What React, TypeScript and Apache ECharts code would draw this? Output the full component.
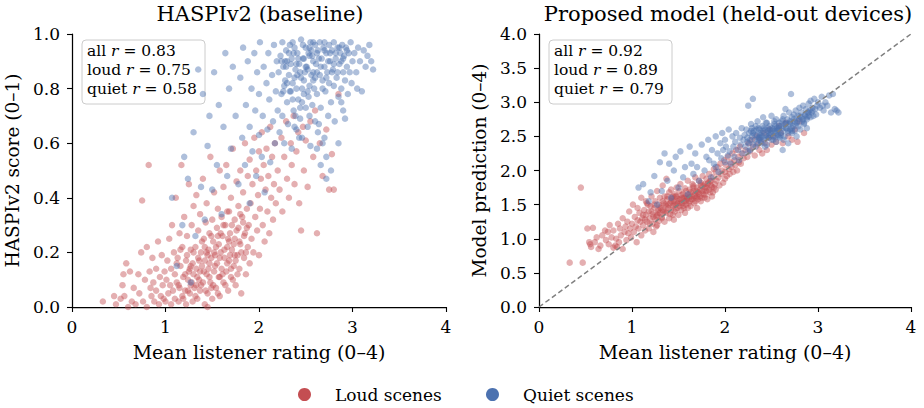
import React, { useEffect, useRef } from "react";
import * as echarts from "echarts";

// Each scene: [mean listener rating, HASPIv2 score, model prediction]
const loudScenes: number[][] = [
  [0.33,0.02,0.65],[0.47,0.01,0.65],[0.45,0.04,1.75],[0.52,0.03,1.15],[0.55,0.12,0.92],[0.56,0.04,0.88],
  [0.58,0.16,1.16],[0.6,0.0,0.95],[0.62,0.13,1.02],[0.64,0.02,0.85],[0.66,0.07,0.9],[0.68,0.01,1.05],[0.54,0.08,0.95],
  [0.72,0.05,0.98],[0.74,0.2,1.1],[0.75,0.39,0.92],[0.76,0.02,1.2],[0.78,0.1,1.02],[0.8,0.22,0.87],[0.8,0.0,1.12],
  [0.82,0.52,0.9],[0.83,0.13,1.0],[0.85,0.04,1.22],[0.86,0.18,0.95],[0.87,0.09,1.15],[0.88,0.02,1.05],[0.9,0.14,1.3],
  [0.9,0.06,0.85],[0.92,0.24,1.1],[0.93,0.01,1.18],[0.94,0.11,0.98],[0.95,0.04,1.25],[0.96,0.19,1.08],[0.97,0.08,1.4],
  [0.98,0.03,1.15],[0.99,0.13,1.02],[0.71,0.12,1.12],[0.84,0.07,0.88],
  [1.0,0.02,1.22],[1.01,0.1,1.5],[1.02,0.17,1.1],[1.03,0.05,1.32],[1.04,0.25,1.18],[1.05,0.08,0.95],[1.06,0.01,1.27],
  [1.06,0.14,1.45],[1.07,0.3,1.15],[1.08,0.06,1.38],[1.09,0.2,1.25],[1.1,0.03,1.05],[1.1,0.12,1.6],[1.11,0.4,1.3],
  [1.12,0.09,1.2],[1.13,0.18,1.42],[1.14,0.02,1.12],[1.15,0.27,1.55],[1.15,0.07,1.35],[1.16,0.15,1.25],[1.17,0.52,1.5],
  [1.18,0.04,1.4],[1.18,0.22,1.15],[1.19,0.11,1.3],[1.2,0.33,1.48],[1.21,0.06,1.62],[1.22,0.17,1.22],[1.22,0.01,1.36],
  [1.23,0.26,1.1],[1.24,0.1,1.45],[1.25,0.45,1.28],[1.25,0.13,1.55],[1.26,0.05,1.33],[1.27,0.21,1.7],[1.27,0.08,1.2],
  [1.28,0.3,1.42],[1.29,0.16,1.5],[1.29,0.02,1.26],[1.3,0.37,1.38],[1.3,0.12,1.6],
  [1.31,0.07,1.45],[1.32,0.22,1.32],[1.33,0.14,1.55],[1.33,0.41,1.78],[1.34,0.03,1.4],[1.35,0.18,1.62],[1.35,0.28,1.25],
  [1.36,0.1,1.5],[1.37,0.34,1.88],[1.37,0.06,1.38],[1.38,0.2,1.58],[1.39,0.15,1.45],[1.4,0.47,1.68],[1.4,0.09,1.3],
  [1.41,0.25,1.52],[1.42,0.01,1.42],[1.42,0.17,1.72],[1.43,0.31,1.6],[1.44,0.12,1.48],[1.44,0.38,1.35],[1.45,0.05,1.55],
  [1.46,0.21,1.65],[1.46,0.14,1.4],[1.47,0.27,1.5],[1.48,0.09,1.75],[1.48,0.55,1.62],[1.49,0.18,1.45],[1.5,0.32,1.58],
  [1.5,0.03,1.35],[1.51,0.24,1.7],[1.52,0.13,1.52],[1.52,0.42,1.8],[1.53,0.19,1.42],[1.54,0.07,1.6],[1.55,0.29,1.48],
  [1.55,0.16,1.66],[1.56,0.36,1.55],[1.57,0.11,1.38],[1.57,0.23,1.74],[1.58,0.5,1.62],[1.58,0.04,1.5],[1.59,0.2,1.58],
  [1.6,0.33,1.85],[1.6,0.14,1.45],[1.45,0.0,1.28],
  [1.61,0.26,1.65],[1.62,0.09,1.55],[1.62,0.44,1.72],[1.63,0.18,1.48],[1.64,0.3,1.62],[1.65,0.13,1.8],[1.65,0.52,1.58],
  [1.66,0.22,1.7],[1.67,0.06,1.52],[1.68,0.35,1.66],[1.68,0.17,1.9],[1.69,0.27,1.6],[1.7,0.4,1.75],[1.7,0.11,1.45],
  [1.71,0.21,1.68],[1.72,0.58,1.85],[1.73,0.15,1.62],[1.74,0.32,1.78],[1.74,0.25,1.55],[1.75,0.08,1.7],[1.76,0.46,1.92],
  [1.77,0.19,1.65],[1.78,0.29,1.8],[1.78,0.37,1.6],[1.79,0.14,1.75],[1.8,0.5,1.88],[1.8,0.23,1.7],[1.81,0.05,1.58],
  [1.82,0.33,1.82],[1.83,0.42,1.95],[1.84,0.18,1.68],[1.85,0.27,1.85],[1.85,0.6,1.78],[1.86,0.12,1.62],[1.87,0.36,1.9],
  [1.88,0.22,1.75],[1.88,0.48,2.02],[1.89,0.3,1.8],[1.9,0.16,1.72],[1.9,0.54,1.98],
  [1.91,0.38,1.85],[1.92,0.25,2.05],[1.93,0.45,1.9],[1.94,0.2,1.78],[1.95,0.62,2.1],[1.96,0.33,1.95],[1.97,0.5,2.0],
  [1.98,0.28,1.82],[1.99,0.41,2.15],[2.0,0.57,1.98],[2.0,0.19,1.88],[2.01,0.36,2.08],[2.02,0.47,1.92],[2.03,0.64,2.2],
  [2.04,0.3,2.02],[2.05,0.52,1.95],[2.06,0.24,2.12],[2.07,0.43,2.05],[2.08,0.58,2.25],[2.09,0.35,1.98],[2.1,0.48,2.15],
  [2.11,0.27,2.08],[2.12,0.66,2.3],[2.13,0.4,2.0],[2.14,0.55,2.2],[2.15,0.32,2.12],[2.16,0.45,2.35],[2.17,0.6,2.1],
  [2.18,0.38,2.25],[2.2,0.5,2.18],
  [2.22,0.43,2.3],[2.24,0.62,2.2],[2.25,0.35,2.4],[2.27,0.55,2.28],[2.29,0.68,2.45],[2.3,0.47,2.35],[2.32,0.4,2.22],
  [2.34,0.6,2.5],[2.35,0.52,2.38],[2.37,0.7,2.3],[2.38,0.45,2.45],[2.4,0.57,2.25],[2.42,0.64,2.55],[2.43,0.38,2.4],
  [2.45,0.28,2.3],[2.47,0.66,2.48],[2.48,0.5,2.6],[2.5,0.61,2.38],
  [2.52,0.44,2.5],[2.55,0.68,2.42],[2.58,0.55,2.65],[2.6,0.72,2.55],[2.62,0.27,2.4],[2.65,0.6,2.7],[2.68,0.48,2.5],
  [2.72,0.65,2.45],[2.75,0.43,2.6],[2.8,0.43,2.72],[2.85,0.78,2.55],[2.78,0.56,2.42],
  [1.12,0.16,1.35],[1.14,0.08,1.28],[1.16,0.21,1.52],[1.19,0.03,1.22],[1.21,0.12,1.4],[1.23,0.19,1.32],[1.24,0.06,1.5],
  [1.26,0.14,1.18],[1.28,0.09,1.38],[1.3,0.2,1.46],[1.32,0.04,1.3],[1.34,0.11,1.52],[1.36,0.17,1.4],[1.38,0.08,1.62],
  [1.39,0.24,1.5],[1.41,0.13,1.36],[1.43,0.06,1.58],[1.45,0.19,1.5],[1.47,0.11,1.62],[1.49,0.26,1.55],[1.51,0.08,1.48],
  [1.53,0.15,1.64],[1.54,0.22,1.52],[1.56,0.05,1.45],[1.58,0.18,1.7],[1.59,0.27,1.6],[1.61,0.12,1.52],[1.63,0.21,1.68],
  [1.64,0.08,1.58],[1.66,0.16,1.75],[1.67,0.25,1.62],[1.69,0.19,1.7],[1.71,0.3,1.58],[1.72,0.1,1.66],[1.73,0.23,1.72],
  [1.75,0.17,1.6],[1.76,0.28,1.78],[1.77,0.12,1.7],[1.79,0.24,1.65],[1.81,0.2,1.8],[1.83,0.31,1.72],[1.84,0.26,1.85],
  [1.86,0.2,1.76],[1.87,0.29,1.68],[1.52,0.2,1.58],[1.47,0.16,1.44],[1.42,0.22,1.55],[1.37,0.13,1.48],[1.33,0.08,1.42],
  [1.27,0.15,1.35],[1.62,0.3,1.62],[1.68,0.24,1.55],[1.74,0.19,1.82],[1.56,0.26,1.6],[1.44,0.2,1.62],[1.66,0.35,1.78],
  [1.58,0.11,1.55],[1.49,0.07,1.52],[1.7,0.14,1.62],[1.8,0.34,1.75],
];

const quietScenes: number[][] = [
  [1.07,0.4,1.75],[1.12,0.15,1.8],[1.18,0.3,1.55],[1.2,0.55,1.68],[1.24,0.47,1.92],[1.27,0.09,1.5],[1.3,0.64,2.12],
  [1.32,0.26,1.7],[1.35,0.87,2.25],[1.38,0.44,1.85],[1.4,0.78,2.1],[1.42,0.32,1.6],[1.45,0.59,2.0],[1.47,0.7,2.2],
  [1.5,0.43,1.75],[1.52,0.86,2.28],[1.55,0.52,1.9],[1.57,0.74,2.05],[1.6,0.34,1.65],[1.62,0.66,2.35],[1.64,0.93,2.1],
  [1.66,0.48,1.95],[1.68,0.8,2.25],[1.7,0.58,2.05],[1.72,0.88,1.85],
  [1.75,0.7,2.38],[1.78,0.45,2.0],[1.8,0.84,2.2],[1.82,0.62,2.45],[1.83,0.95,2.15],[1.85,0.52,1.9],[1.86,0.74,2.3],
  [1.88,0.9,2.1],[1.9,0.38,2.05],[1.9,0.66,2.5],[1.92,0.8,2.25],[1.93,0.57,1.98],[1.95,0.93,2.4],[1.96,0.72,2.18],
  [1.97,0.48,2.55],[1.98,0.86,2.3],[2.0,0.63,2.12],[2.0,0.78,2.45],[2.01,0.97,2.35],[2.03,0.55,2.22],[2.04,0.7,2.6],
  [2.05,0.88,2.28],[2.06,0.42,2.1],[2.08,0.82,2.5],[2.09,0.65,2.35],[2.1,0.93,2.2],[2.11,0.76,2.42],[2.12,0.53,2.55],
  [2.14,0.85,2.3],[2.15,0.68,2.15],[2.16,0.96,2.48],[2.17,0.6,2.38],[2.18,0.79,2.62],[2.19,0.9,2.25],[2.2,0.72,2.45],
  [2.21,0.86,2.52],[2.22,0.64,2.35],[2.23,0.92,2.6],[2.24,0.78,2.42],[2.25,0.97,2.95],[2.25,0.7,2.28],[2.26,0.88,2.55],
  [2.27,0.6,2.45],[2.28,0.83,2.68],[2.29,0.94,2.5],[2.3,0.75,2.38],[2.3,0.9,3.05],[2.31,0.67,2.58],[2.32,0.85,2.45],
  [2.33,0.96,2.65],[2.34,0.79,2.52],[2.35,0.58,2.4],[2.35,0.91,2.72],[2.36,0.82,2.48],[2.37,0.72,2.6],[2.38,0.95,2.55],
  [2.39,0.87,2.42],[2.4,0.65,2.65],[2.4,0.8,2.5],[2.41,0.93,2.78],[2.42,0.76,2.45],[2.43,0.89,2.6],[2.44,0.69,2.52],
  [2.45,0.98,2.7],[2.45,0.84,2.38],[2.46,0.62,2.58],[2.47,0.91,2.48],[2.48,0.78,2.65],[2.49,0.86,2.55],[2.5,0.95,2.8],
  [2.5,0.73,2.45],[2.51,0.88,2.62],[2.52,0.66,2.5],[2.53,0.93,2.68],[2.54,0.81,2.58],[2.55,0.97,2.75],[2.55,0.59,2.42],
  [2.56,0.85,2.62],[2.57,0.74,2.52],[2.58,0.9,2.7],[2.59,0.8,2.48],[2.6,0.96,2.65],[2.6,0.68,2.55],[2.29,0.88,2.62],
  [2.33,0.79,2.35],[2.37,0.93,2.48],[2.41,0.85,2.58],[2.44,0.73,2.7],[2.47,0.96,2.55],[2.52,0.87,2.45],[2.57,0.92,2.6],
  [2.27,0.81,2.3],[2.39,0.7,2.4],[2.48,0.91,2.52],[2.53,0.77,2.72],[2.58,0.83,2.5],[2.24,0.9,2.48],[2.36,0.97,2.62],
  [2.43,0.62,2.35],[2.54,0.95,2.5],
  [2.61,0.89,2.72],[2.62,0.78,2.58],[2.63,0.94,2.8],[2.64,0.67,2.5],[2.65,0.85,2.68],[2.65,0.97,2.9],[2.66,0.73,2.62],
  [2.67,0.91,2.75],[2.68,0.83,2.55],[2.69,0.95,2.85],[2.7,0.62,2.7],[2.7,0.88,2.6],[2.71,0.79,3.12],[2.72,0.93,2.78],
  [2.73,0.86,2.65],[2.74,0.7,2.82],[2.75,0.96,2.72],[2.75,0.82,2.58],[2.76,0.9,2.88],[2.77,0.75,2.7],[2.78,0.94,2.8],
  [2.79,0.87,2.65],[2.8,0.81,2.92],[2.8,0.97,2.75],[2.81,0.68,2.6],[2.82,0.91,2.85],[2.83,0.84,2.72],[2.84,0.95,2.95],
  [2.85,0.77,2.68],[2.86,0.89,2.82],[2.87,0.93,2.9],[2.88,0.8,2.75],[2.89,0.96,2.85],[2.9,0.86,2.98],[2.9,0.72,2.8],
  [2.91,0.92,2.88],[2.92,0.83,3.02],[2.93,0.95,2.85],[2.94,0.88,2.92],[2.95,0.78,2.8],[2.96,0.93,3.05],[2.97,0.86,2.9],
  [2.98,0.97,2.82],[2.99,0.82,2.95],[3.0,0.9,3.0],[2.63,0.64,2.45],[2.68,0.6,2.4],[2.72,0.55,2.58],[2.77,0.5,2.5],
  [2.66,0.52,2.62],[2.85,0.6,2.7],[2.88,0.75,2.62],[2.92,0.69,2.78],[2.72,0.47,2.55],[2.62,0.58,2.3],
  [3.02,0.93,2.92],[3.04,0.86,3.08],[3.06,0.95,2.88],[3.08,0.9,3.0],[3.1,0.79,2.95],[3.12,0.94,3.1],[3.14,0.88,2.85],
  [3.16,0.92,3.12],[3.18,0.96,2.9],[3.2,0.9,2.88],[3.22,0.87,2.85],[3.05,0.8,2.95],
  [2.3,0.82,2.55],[2.34,0.89,2.6],[2.38,0.84,2.52],[2.42,0.91,2.62],[2.46,0.8,2.5],[2.5,0.88,2.58],[2.54,0.92,2.55],
  [2.58,0.86,2.65],[2.62,0.93,2.62],[2.66,0.88,2.7],[2.7,0.94,2.68],[2.74,0.9,2.75],[2.78,0.86,2.72],[2.82,0.93,2.78],
  [2.86,0.95,2.8],[2.9,0.91,2.85],[2.94,0.94,2.88],[2.68,0.8,2.58],[2.6,0.84,2.52],[2.52,0.79,2.6],[2.44,0.86,2.48],
  [2.36,0.76,2.45],[2.28,0.9,2.58],[2.64,0.91,2.68],[2.72,0.84,2.62],[2.76,0.93,2.66],[2.8,0.89,2.8],[2.84,0.86,2.75],
  [2.56,0.94,2.58],[2.48,0.83,2.6],[2.4,0.89,2.55],[2.32,0.93,2.52],[2.26,0.79,2.4],[2.62,0.86,2.75],[2.58,0.97,2.62],
  [2.7,0.97,2.72],[2.88,0.9,2.78],[2.46,0.75,2.62],[2.38,0.66,2.48],[2.54,0.7,2.65],
];

const panelTitles = ["HASPIv2 (baseline)", "Proposed model (held-out devices)"];
const yAxisNames = ["HASPIv2 score (0–1)", "Model prediction (0–4)"];
const xAxisName = "Mean listener rating (0–4)";
const seriesNames = ["Loud scenes", "Quiet scenes"];
const correlationLabels = [
  [["all", "0.83"], ["loud", "0.75"], ["quiet", "0.58"]],
  [["all", "0.92"], ["loud", "0.89"], ["quiet", "0.79"]],
];
const identityLine = [[0, 0], [4, 4]];

const RED = "#c44e52";
const BLUE = "#4c72b0";
const FONT = "'DejaVu Serif', serif";

const grids = [
  { left: 72, top: 34, width: 374, height: 273 },
  { left: 539, top: 34, width: 372, height: 273 },
];
const titleCenters = [260, 728];
const legendLefts = [298, 486];

function statBox(x: number, y: number, lines: string[][]) {
  return {
    type: "group",
    x,
    y,
    children: [
      {
        type: "rect",
        shape: { x: 0, y: 0, width: 123, height: 64, r: 4 },
        style: { fill: "rgba(255,255,255,0.8)", stroke: "#cccccc", lineWidth: 1 },
      },
      ...lines.map((l, i) => ({
        type: "text",
        x: 5,
        y: 3 + i * 19,
        style: {
          text: `{n|${l[0]} }{i|r}{n| = ${l[1]}}`,
          rich: {
            n: { fontFamily: FONT, fontSize: 15.5, fill: "#000" },
            i: { fontFamily: FONT, fontSize: 15.5, fontStyle: "italic", fill: "#000" },
          },
        },
      })),
    ],
  };
}

export default function App() {
  const ref = useRef<HTMLDivElement>(null);

  useEffect(() => {
    if (!ref.current) return;
    const chart = echarts.init(ref.current, null, { renderer: "svg" });

    const axisCommon = {
      axisLine: { lineStyle: { color: "#000", width: 1.25 } },
      axisTick: { length: 5, lineStyle: { color: "#000", width: 1.1 } },
      splitLine: { show: false },
    };

    const xAxes = [0, 1].map((g) => ({
      ...axisCommon,
      type: "value",
      gridIndex: g,
      min: 0,
      max: 4,
      interval: 1,
      name: xAxisName,
      nameLocation: "middle",
      nameGap: 35,
      nameTextStyle: { fontFamily: FONT, fontSize: 19, color: "#000" },
      axisLabel: { fontFamily: FONT, fontSize: 17, color: "#000", margin: 11 },
    }));

    const yAxes = [
      { max: 1, interval: 0.2 },
      { max: 4, interval: 0.5 },
    ].map((a, g) => ({
      ...axisCommon,
      type: "value",
      gridIndex: g,
      min: 0,
      max: a.max,
      interval: a.interval,
      name: yAxisNames[g],
      nameLocation: "middle",
      nameGap: 50,
      nameTextStyle: { fontFamily: FONT, fontSize: 18.5, color: "#000" },
      axisLabel: {
        fontFamily: FONT,
        fontSize: 17,
        color: "#000",
        margin: 12,
        formatter: (v: number) => v.toFixed(1),
      },
    }));

    const scatter = (name: string, color: string, g: number, data: number[][]) => ({
      type: "scatter",
      name,
      xAxisIndex: g,
      yAxisIndex: g,
      symbolSize: 6.5,
      itemStyle: { color, opacity: 0.45 },
      emphasis: { disabled: true },
      data,
    });

    chart.setOption({
      animation: false,
      backgroundColor: "#fff",
      title: panelTitles.map((t, i) => ({
        text: t,
        left: titleCenters[i],
        top: 3,
        padding: 0,
        textAlign: "center",
        textStyle: { fontFamily: FONT, fontSize: 21, fontWeight: "normal", color: "#000" },
      })),
      grid: grids,
      xAxis: xAxes,
      yAxis: yAxes,
      legend: seriesNames.map((name, i) => ({
        data: [name],
        left: legendLefts[i],
        top: 386,
        padding: 0,
        icon: "circle",
        itemWidth: 13,
        itemHeight: 13,
        itemStyle: { opacity: 1 },
        textStyle: {
          fontFamily: FONT,
          fontSize: 17,
          color: "#000",
          padding: [0, 0, 0, 19],
        },
      })),
      series: [
        scatter(seriesNames[0], RED, 0, loudScenes.map((p) => [p[0], p[1]])),
        scatter(seriesNames[1], BLUE, 0, quietScenes.map((p) => [p[0], p[1]])),
        scatter(seriesNames[0], RED, 1, loudScenes.map((p) => [p[0], p[2]])),
        scatter(seriesNames[1], BLUE, 1, quietScenes.map((p) => [p[0], p[2]])),
        {
          type: "line",
          name: "identity",
          xAxisIndex: 1,
          yAxisIndex: 1,
          data: identityLine,
          symbol: "none",
          silent: true,
          z: 5,
          lineStyle: { color: "#808080", width: 1.5, type: [5, 3] },
        },
      ],
      graphic: [
        statBox(82, 40, correlationLabels[0]),
        statBox(549, 40, correlationLabels[1]),
      ],
    });

    return () => chart.dispose();
  }, []);

  return (
    <div
      ref={ref}
      style={{ position: "absolute", left: 0, top: 0, width: 924, height: 408 }}
    />
  );
}
